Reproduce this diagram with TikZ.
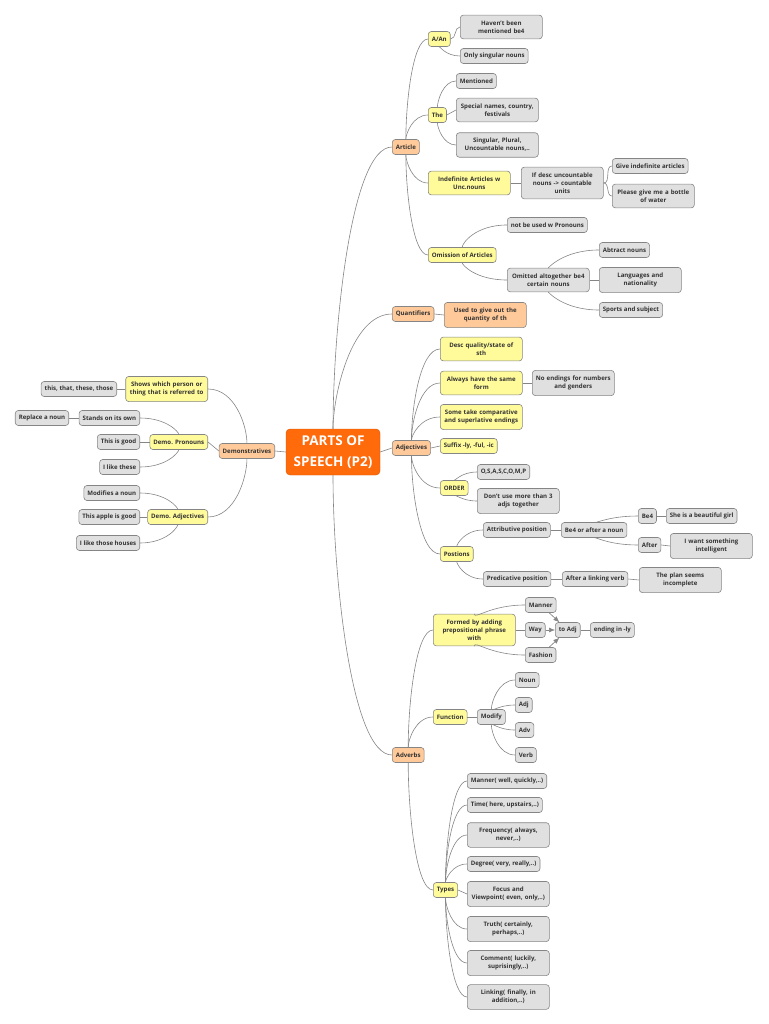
\documentclass[tikz,border=0pt]{standalone}
\usepackage{fontspec}
\setmainfont{Open Sans}
\usetikzlibrary{arrows.meta,calc}

\definecolor{rootfill}{HTML}{FF6A0A}
\definecolor{rootdraw}{HTML}{D95400}
\definecolor{peach}{HTML}{FFC999}
\definecolor{lemon}{HTML}{FFFB9A}
\definecolor{pale}{HTML}{E0E0E0}
\definecolor{edge}{HTML}{858585}
\definecolor{txt}{HTML}{333333}

\begin{document}
\begin{tikzpicture}[
    x=1pt, y=-1pt,
    >=Latex,
    box/.style={draw=edge,line width=0.6pt,rounded corners=3pt,text=txt,
      font=\bfseries\fontsize{6.1}{8}\selectfont,align=center,
      inner xsep=3.5pt,inner ysep=3pt,minimum height=15pt},
    main/.style={box,fill=peach},
    sub/.style={box,fill=lemon},
    leaf/.style={box,fill=pale},
    wide/.style={text width=75pt,inner ysep=5.5pt},
    rootbox/.style={draw=rootdraw,fill=rootfill,rounded corners=4pt,text=white,
      font=\bfseries\fontsize{13.5}{21}\selectfont,align=center,
      minimum width=94pt,minimum height=46pt},
    link/.style={draw=edge,line width=0.6pt},
    branch/.style={to path={.. controls ($(\tikztostart|-\tikztotarget)!0.6!(\tikztostart)$)
      and ($(\tikztostart|-\tikztotarget)!0.3!(\tikztotarget)$) .. (\tikztotarget)}},
    arr/.style={link,-{Latex[length=6pt,width=5pt]},fill=edge}
  ]
    \useasboundingbox (0,0) rectangle (768,1024);

    % Centre and main topics
    \node[rootbox] (root) at (333,452) {PARTS OF\\SPEECH (P2)};
    \node[main,anchor=east] (demo) at (275,451) {Demonstratives};
    \node[main,anchor=west] (article) at (392,147) {Article};
    \node[main,anchor=west] (quant) at (392,314) {Quantifiers};
    \node[main,anchor=west] (adj) at (392,448) {Adjectives};
    \node[main,anchor=west] (adv) at (392,755) {Adverbs};

    % Article
    \node[sub,anchor=west] (aan) at (428,39) {A/An};
    \node[sub,anchor=west] (the) at (428,115) {The};
    \node[sub,wide,anchor=west] (indef) at (428,183) {Indefinite Articles w\\Unc.nouns};
    \node[sub,anchor=west] (omis) at (428,255) {Omission of Articles};
    \node[leaf,wide,anchor=west] (haven) at (460,27) {Haven't been\\mentioned be4};
    \node[leaf,anchor=west] (onlysg) at (460,56) {Only singular nouns};
    \node[leaf,anchor=west] (mention) at (456,81) {Mentioned};
    \node[leaf,wide,anchor=west] (special) at (456,110) {Special names, country,\\festivals};
    \node[leaf,wide,anchor=west] (singular) at (456,145) {Singular, Plural,\\Uncountable nouns,..};
    \node[leaf,wide,anchor=west] (ifdesc) at (521,183) {If desc uncountable\\nouns -> countable\\units};
    \node[leaf,anchor=west] (give) at (612,166) {Give indefinite articles};
    \node[leaf,wide,anchor=west] (please) at (612,196) {Please give me a bottle\\of water};
    \node[leaf,anchor=west] (notused) at (507,225) {not be used w Pronouns};
    \node[leaf,wide,anchor=west] (omitted) at (507,280) {Omitted altogether be4\\certain nouns};
    \node[leaf,anchor=west] (abtract) at (599,250) {Abtract nouns};
    \node[leaf,wide,anchor=west] (lang) at (599,280) {Languages and\\nationality};
    \node[leaf,anchor=west] (sports) at (599,310) {Sports and subject};

    % Quantifiers
    \node[main,wide,anchor=west] (usedto) at (444,315) {Used to give out the\\quantity of th};

    % Adjectives
    \node[sub,wide,anchor=west] (desc) at (440,349) {Desc quality/state of\\sth};
    \node[sub,wide,anchor=west] (always) at (440,383) {Always have the same\\form};
    \node[leaf,wide,anchor=west] (noend) at (532,383) {No endings for numbers\\and genders};
    \node[sub,wide,anchor=west] (some) at (440,417) {Some take comparative\\and superlative endings};
    \node[sub,anchor=west] (suffix) at (440,446) {Suffix -ly, -ful, -ic};
    \node[sub,anchor=west] (order) at (440,488) {ORDER};
    \node[leaf,anchor=west] (osas) at (477,472) {O,S,A,S,C,O,M,P};
    \node[leaf,wide,anchor=west] (dontuse) at (477,501) {Don't use more than 3\\adjs together};
    \node[sub,anchor=west] (pos) at (440,554) {Postions};
    \node[leaf,anchor=west] (attr) at (483,530) {Attributive position};
    \node[leaf,anchor=west] (be4after) at (561,530) {Be4 or after a noun};
    \node[leaf,anchor=west] (be4) at (638,516) {Be4};
    \node[leaf,anchor=west] (she) at (666,516) {She is a beautiful girl};
    \node[leaf,anchor=west] (after) at (638,545) {After};
    \node[leaf,wide,anchor=west] (iwant) at (670,546) {I want something\\intelligent};
    \node[leaf,anchor=west] (pred) at (483,579) {Predicative position};
    \node[leaf,anchor=west] (linking) at (562,579) {After a linking verb};
    \node[leaf,wide,anchor=west] (plan) at (639,580) {The plan seems\\incomplete};

    % Adverbs
    \node[sub,wide,anchor=west] (formed) at (433,630) {Formed by adding\\prepositional phrase\\with};
    \node[leaf,anchor=west] (manner) at (525,605) {Manner};
    \node[leaf,anchor=west] (way) at (525,630) {Way};
    \node[leaf,anchor=west] (fashion) at (525,655) {Fashion};
    \node[leaf,anchor=west] (toadj) at (555,630) {to Adj};
    \node[leaf,anchor=west] (ending) at (590,630) {ending in -ly};
    \node[sub,anchor=west] (func) at (433,717) {Function};
    \node[leaf,anchor=west] (modify) at (477,717) {Modify};
    \node[leaf,anchor=west] (noun) at (515,680) {Noun};
    \node[leaf,anchor=west] (adjw) at (515,705) {Adj};
    \node[leaf,anchor=west] (advw) at (515,730) {Adv};
    \node[leaf,anchor=west] (verb) at (515,755) {Verb};
    \node[sub,anchor=west] (types) at (433,890) {Types};
    \node[leaf,anchor=west] (t1) at (467,781) {Manner( well, quickly,..)};
    \node[leaf,anchor=west] (t2) at (467,805) {Time( here, upstairs,..)};
    \node[leaf,wide,anchor=west] (t3) at (467,835) {Frequency( always,\\never,..)};
    \node[leaf,anchor=west] (t4) at (467,864) {Degree( very, really,..)};
    \node[leaf,wide,anchor=west] (t5) at (467,894) {Focus and\\Viewpoint( even, only,..)};
    \node[leaf,wide,anchor=west] (t6) at (467,929) {Truth( certainly,\\perhaps,..)};
    \node[leaf,wide,anchor=west] (t7) at (467,963) {Comment( luckily,\\suprisingly,..)};
    \node[leaf,wide,anchor=west] (t8) at (467,997) {Linking( finally, in\\addition,..)};

    % Demonstratives (left side)
    \node[sub,wide,anchor=east] (shows) at (208,389) {Shows which person or\\thing that is referred to};
    \node[leaf,anchor=east] (thisthat) at (117,389) {this, that, these, those};
    \node[sub,anchor=east] (pron) at (208,442) {Demo. Pronouns};
    \node[leaf,anchor=east] (stands) at (140,418) {Stands on its own};
    \node[leaf,anchor=east] (replace) at (69,418) {Replace a noun};
    \node[leaf,anchor=east] (thisgood) at (140,442) {This is good};
    \node[leaf,anchor=east] (likethese) at (140,467) {I like these};
    \node[sub,anchor=east] (demadj) at (208,517) {Demo. Adjectives};
    \node[leaf,anchor=east] (modifies) at (140,493) {Modifies a noun};
    \node[leaf,anchor=east] (apple) at (140,517) {This apple is good};
    \node[leaf,anchor=east] (likehouses) at (140,543) {I like those houses};

    % Connectors
    \draw[link] (root) to[branch] (article.west);
    \draw[link] (root) to[branch] (quant.west);
    \draw[link] (root.east) -- (adj.west);
    \draw[link] (root) to[branch] (adv.west);
    \draw[link] (root.west) -- (demo.east);

    \draw[link] (aan.east) to[out=0,in=180] (haven.west);
    \draw[link] (aan) to[branch] (onlysg.west);
    \draw[link] (the) to[branch] (mention.west);
    \draw[link] (the.east) -- (special.west);
    \draw[link] (the) to[branch] (singular.west);
    \foreach \c in {aan,the,indef,omis}
      \draw[link] (article) to[branch] (\c.west);
    \draw[link] (indef.east) -- (ifdesc.west);
    \draw[link] (ifdesc.east) to[out=0,in=180] (give.west);
    \draw[link] (ifdesc.east) to[out=0,in=180] (please.west);
    \draw[link] (omis) to[branch] (notused.west);
    \draw[link] (omis) to[branch] (omitted.west);
    \draw[link] (omitted) to[branch] (abtract.west);
    \draw[link] (omitted.east) -- (lang.west);
    \draw[link] (omitted) to[branch] (sports.west);
    \draw[link] (quant.east) -- (usedto.west);

    \foreach \c in {desc,always,some,order,pos}
      \draw[link] (adj) to[branch] (\c.west);
    \draw[link] (adj.east) -- (suffix.west);
    \draw[link] (always.east) -- (noend.west);
    \draw[link] (order) to[branch] (osas.west);
    \draw[link] (order) to[branch] (dontuse.west);
    \draw[link] (pos) to[branch] (attr.west);
    \draw[link] (pos) to[branch] (pred.west);
    \draw[link] (attr.east) -- (be4after.west);
    \draw[link] (be4after) to[branch] (be4.west);
    \draw[link] (be4after) to[branch] (after.west);
    \draw[link] (be4.east) -- (she.west);
    \draw[link] (after.east) -- (iwant.west);
    \draw[link] (pred.east) -- (linking.west);
    \draw[link] (linking.east) -- (plan.west);

    \foreach \c in {formed,func,types}
      \draw[link] (adv) to[branch] (\c.west);
    \draw[link] (formed) to[branch] (manner.west);
    \draw[link] (formed.east) -- (way.west);
    \draw[link] (formed) to[branch] (fashion.west);
    \draw[arr] (manner) -- (toadj);
    \draw[arr] (way) -- (toadj);
    \draw[arr] (fashion) -- (toadj);
    \draw[link] (toadj.east) -- (ending.west);
    \draw[link] (func.east) -- (modify.west);
    \foreach \c in {noun,adjw,advw,verb}
      \draw[link] (modify) to[branch] (\c.west);
    \foreach \c in {t1,t2,t3,t4,t6,t7,t8}
      \draw[link] (types) to[branch] (\c.west);
    \draw[link] (types.east) -- (t5.west);

    \draw[link] (demo) to[branch] (shows.east);
    \draw[link] (demo.west) -- (pron.east);
    \draw[link] (demo) to[branch] (demadj.east);
    \draw[link] (shows.west) -- (thisthat.east);
    \draw[link] (pron) to[branch] (stands.east);
    \draw[link] (pron.west) -- (thisgood.east);
    \draw[link] (pron) to[branch] (likethese.east);
    \draw[link] (stands.west) -- (replace.east);
    \draw[link] (demadj) to[branch] (modifies.east);
    \draw[link] (demadj.west) -- (apple.east);
    \draw[link] (demadj) to[branch] (likehouses.east);
  \end{tikzpicture}
\end{document}
